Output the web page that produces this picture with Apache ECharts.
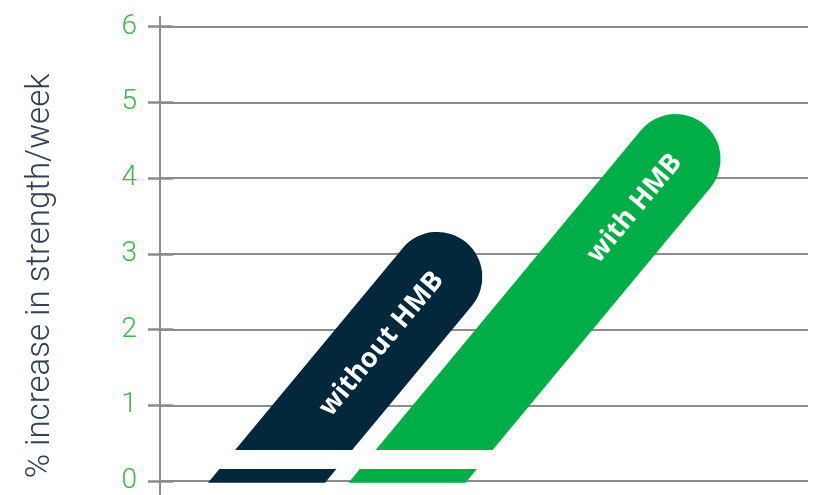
<!DOCTYPE html>
<html>
<head>
<meta charset="utf-8">
<script src="https://cdn.jsdelivr.net/npm/echarts@6/dist/echarts.min.js"></script>
<style>
  html, body { margin: 0; padding: 0; background: #fff; }
  #chart { width: 830px; height: 495px; }
</style>
</head>
<body>
<div id="chart"></div>
<script>
// data
const categories = ['without HMB', 'with HMB']
const values = [3.3, 4.85]
const yTicks = [0, 1, 2, 3, 4, 5, 6]
const barColors = ['#03283b', '#00ad46']

// look of the slanted bars
const SLANT = 0.83        // dx per dy of the bar direction
const BAR_RATIO = 0.833   // horizontal bar width / category band
const GAP = [0.18, 0.43]  // white cut near the base (value units)

const lineColor = '#8c8c8c'
const myChart = echarts.init(document.getElementById('chart'))

const renderBar = (params, api) => {
  const cat = api.value(0)
  const v = api.value(1)
  const base = api.coord([cat, 0])
  const top = api.coord([cat, v])
  const yA = api.coord([cat, GAP[0]])[1]
  const yB = api.coord([cat, GAP[1]])[1]
  const hw = api.size([1, 0])[0] * BAR_RATIO / 2
  const k = Math.sqrt(1 + SLANT * SLANT)
  const cos = 1 / k, sin = SLANT / k
  const r = hw * cos
  const cx = y => base[0] + (base[1] - y) * SLANT
  const Cy = top[1] + r
  const Cx = cx(Cy)
  const right = [Cx + r * cos, Cy + r * sin]
  const left = [Cx - r * cos, Cy - r * sin]
  const color = barColors[params.dataIndex]
  const path = 'M' + (cx(yB) - hw) + ' ' + yB +
    ' L' + (cx(yB) + hw) + ' ' + yB +
    ' L' + right[0] + ' ' + right[1] +
    ' A' + r + ' ' + r + ' 0 0 0 ' + left[0] + ' ' + left[1] + ' Z'
  const tx = Cx + sin * 2
  const ty = Cy - cos * 2
  return {
    type: 'group',
    children: [
      {
        type: 'polygon',
        shape: {
          points: [
            [cx(base[1]) - hw, base[1]],
            [cx(base[1]) + hw, base[1]],
            [cx(yA) + hw, yA],
            [cx(yA) - hw, yA]
          ]
        },
        style: { fill: color }
      },
      {
        type: 'path',
        shape: { pathData: path },
        style: { fill: color }
      },
      {
        type: 'text',
        x: tx,
        y: ty,
        rotation: Math.atan(1 / SLANT),
        style: {
          text: categories[params.dataIndex],
          fill: '#fff',
          font: 'bold 27px "Open Sans", sans-serif',
          align: 'right',
          verticalAlign: 'middle'
        }
      }
    ]
  }
}

const option = {
  animation: false,
  grid: [
    { left: 160, right: 22, top: 26.7, height: 456 },
    { left: 196.25, width: 281, top: 26.7, height: 456 },
    { left: 160, width: 10, top: 17, bottom: 0 }
  ],
  xAxis: [
    { type: 'value', gridIndex: 0, show: false },
    { type: 'category', gridIndex: 1, data: categories, show: false },
    { type: 'value', gridIndex: 2, show: false }
  ],
  yAxis: [
    {
      type: 'value', gridIndex: 0, position: 'left',
      min: yTicks[0], max: yTicks[yTicks.length - 1], interval: 1,
      axisLine: { show: false },
      axisTick: { show: true, length: 12, lineStyle: { color: lineColor, width: 2.5 } },
      axisLabel: {
        margin: 23, color: '#3db54a', fontSize: 28,
        fontFamily: 'Roboto', fontWeight: 300
      },
      splitLine: { lineStyle: { color: lineColor, width: 2 } }
    },
    {
      type: 'value', gridIndex: 0, position: 'left', offset: 0,
      min: yTicks[0], max: yTicks[yTicks.length - 1], interval: 1,
      axisLine: { show: false },
      axisTick: { show: true, inside: true, length: 13, lineStyle: { color: lineColor, width: 2.5 } },
      axisLabel: { show: false },
      splitLine: { show: false }
    },
    {
      type: 'value', gridIndex: 1, min: yTicks[0], max: yTicks[yTicks.length - 1], show: false
    },
    {
      type: 'value', gridIndex: 2, min: 0, max: 1,
      axisLine: { show: true, lineStyle: { color: lineColor, width: 2 } },
      axisTick: { show: false },
      axisLabel: { show: false },
      splitLine: { show: false }
    }
  ],
  graphic: [
    {
      type: 'text',
      x: 41,
      y: 276,
      rotation: Math.PI / 2,
      style: {
        text: '% increase in strength/week',
        fill: '#2f4153',
        font: '300 33px Roboto, sans-serif',
        align: 'center',
        verticalAlign: 'middle'
      }
    }
  ],
  series: [
    {
      type: 'custom',
      xAxisIndex: 1,
      yAxisIndex: 2,
      clip: false,
      renderItem: renderBar,
      encode: { x: 0, y: 1 },
      data: values.map((v, i) => [i, v])
    }
  ]
}

myChart.setOption(option)
</script>
</body>
</html>
